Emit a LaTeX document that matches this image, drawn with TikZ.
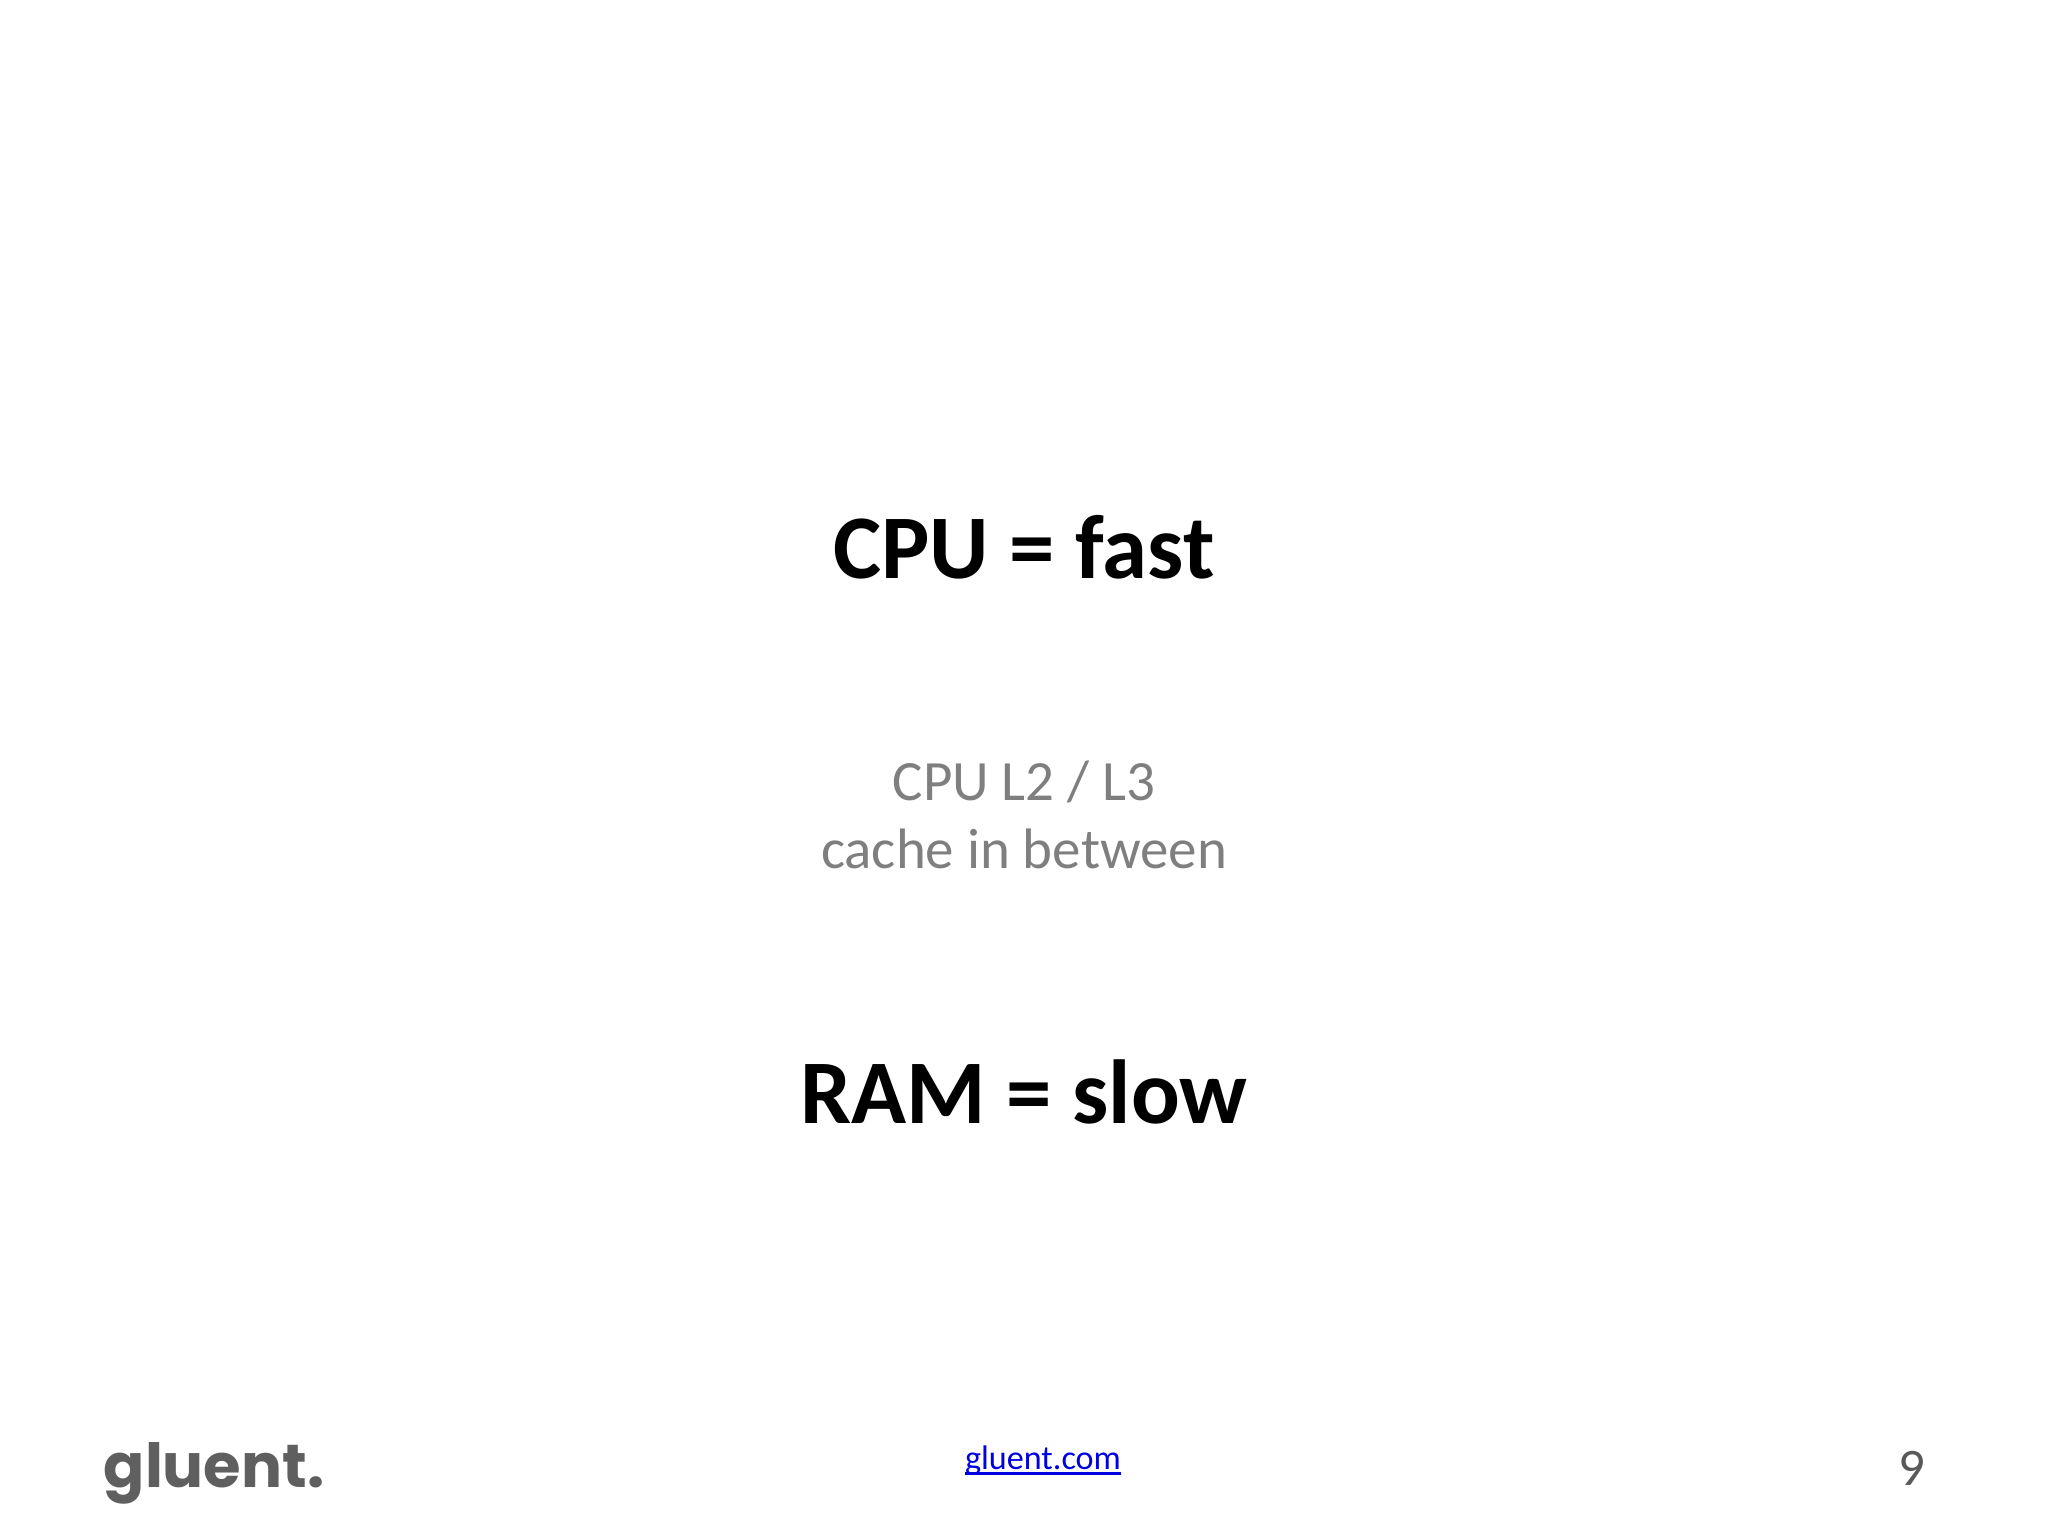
\documentclass[tikz,border=0pt]{standalone}
\usepackage{fontspec}
\setmainfont{Carlito}
\newfontfamily\logofont{Poppins}
\definecolor{logogray}{HTML}{5F5F5F}
\definecolor{midgray}{HTML}{7F7F7F}
\definecolor{numgray}{HTML}{595959}
\definecolor{linkblue}{HTML}{0000E0}
\usetikzlibrary{positioning}
\newcommand{\linkline}[1]{\setbox0\hbox{#1}\rlap{\rule[-1.7pt]{\wd0}{.85pt}}\box0}

\begin{document}
\begin{tikzpicture}[x=.01cm,y=-.01cm,
headline/.style={font=\fontsize{25.85}{30}\selectfont\bfseries, text=black, anchor=base, inner sep=0pt},
subline/.style={font=\fontsize{16.2}{19}\selectfont, text=midgray, anchor=base, inner sep=0pt}]
% page frame in reference pixels
\useasboundingbox (0,0) rectangle (2048,1536);
\node[headline] (cpu) at (1024,578) {CPU = fast};
\node[subline] (cacheA) at (1024,800) {CPU L2 / L3};
\node[subline] (cacheB) at (1024,868) {cache in between};
\node[headline] (ram) at (1024,1123) {RAM = slow};
% footer
\node[anchor=base west, inner sep=0pt, text=logogray, font=\logofont\fontsize{17.3}{20}\selectfont\bfseries] (logo) at (103,1487) {gluent.};
\node[anchor=base, inner sep=0pt, text=linkblue, font=\fontsize{9.7}{12}\selectfont] (link) at (1043,1469) {\linkline{gluent.com}};
\node[anchor=base, inner sep=0pt, text=numgray, font=\fontsize{15}{18}\selectfont] (num) at (1912,1485) {9};
\end{tikzpicture}
\end{document}
